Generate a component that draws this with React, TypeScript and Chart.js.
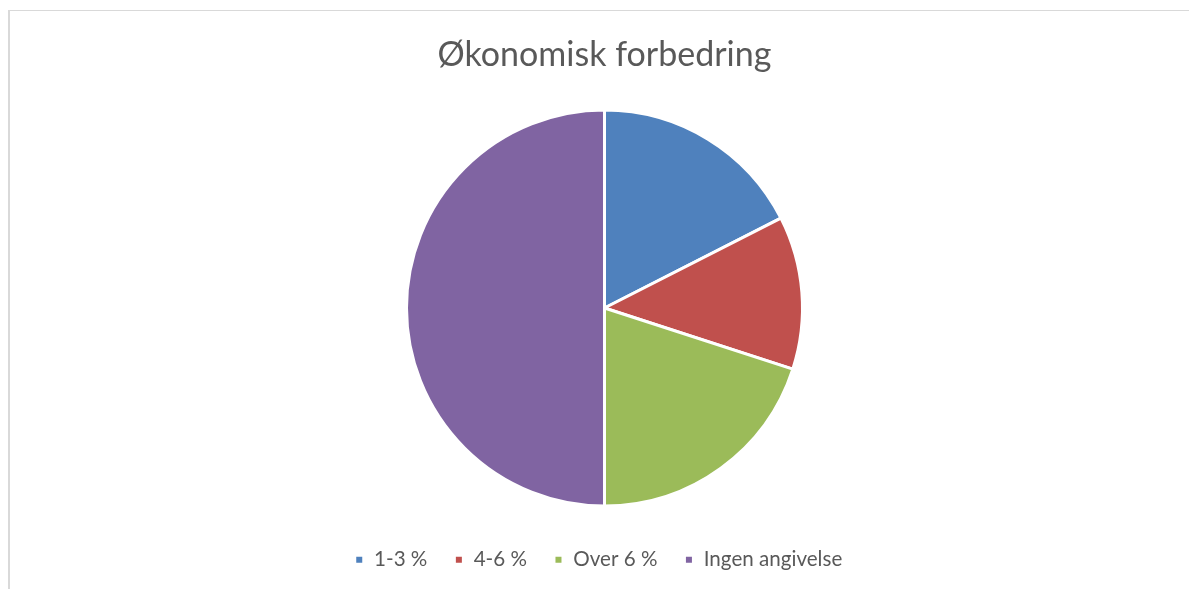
import React, { useEffect, useRef } from "react";
import { Chart, registerables } from "chart.js";

Chart.register(...registerables);

const chartTitle = "Økonomisk forbedring";
const categories = ["1-3 %", "4-6 %", "Over 6 %", "Ingen angivelse"];
const values = [7, 5, 8, 20];
const colors = ["#4F81BD", "#C0504D", "#9BBB59", "#8064A2"];

const legendShift = {
  id: "legendShift",
  afterLayout(chart: any) {
    if (chart.legend) {
      chart.legend.left -= 6;
      chart.legend.right -= 6;
    }
  },
};

export default function App() {
  const ref = useRef<HTMLCanvasElement | null>(null);

  useEffect(() => {
    if (!ref.current) return;
    const chart = new Chart(ref.current, {
      type: "pie",
      data: {
        labels: categories,
        datasets: [
          {
            data: values,
            backgroundColor: colors,
            borderColor: "#ffffff",
            borderWidth: 3,
            radius: 198,
          },
        ],
      },
      plugins: [legendShift],
      options: {
        animation: false,
        responsive: false,
        layout: { padding: { top: 0, bottom: 9, left: 20, right: 0 } },
        plugins: {
          title: {
            display: true,
            text: chartTitle,
            color: "#595959",
            font: { family: "Lato", size: 34, weight: "normal" },
            padding: { top: 35, bottom: 17.8 },
          },
          legend: {
            position: "bottom",
            labels: {
              color: "#595959",
              font: { family: "Lato", size: 20.6 },
              boxWidth: 9,
              boxHeight: 9,
              padding: 27,
            },
          },
          tooltip: { enabled: false },
        },
      },
    });
    return () => chart.destroy();
  }, []);

  return (
    <div style={{ position: "fixed", left: 0, top: 0, width: "100vw", height: "100vh", overflow: "hidden", background: "#fff" }}>
      <div
        style={{
          position: "absolute",
          left: 8,
          top: 10,
          width: 1400,
          height: 800,
          borderTop: "1px solid #d9d9d9",
          borderLeft: "2px solid #d9d9d9",
        }}
      />
      <canvas ref={ref} width={1189} height={589} style={{ position: "absolute", left: 0, top: 0 }} />
    </div>
  );
}
